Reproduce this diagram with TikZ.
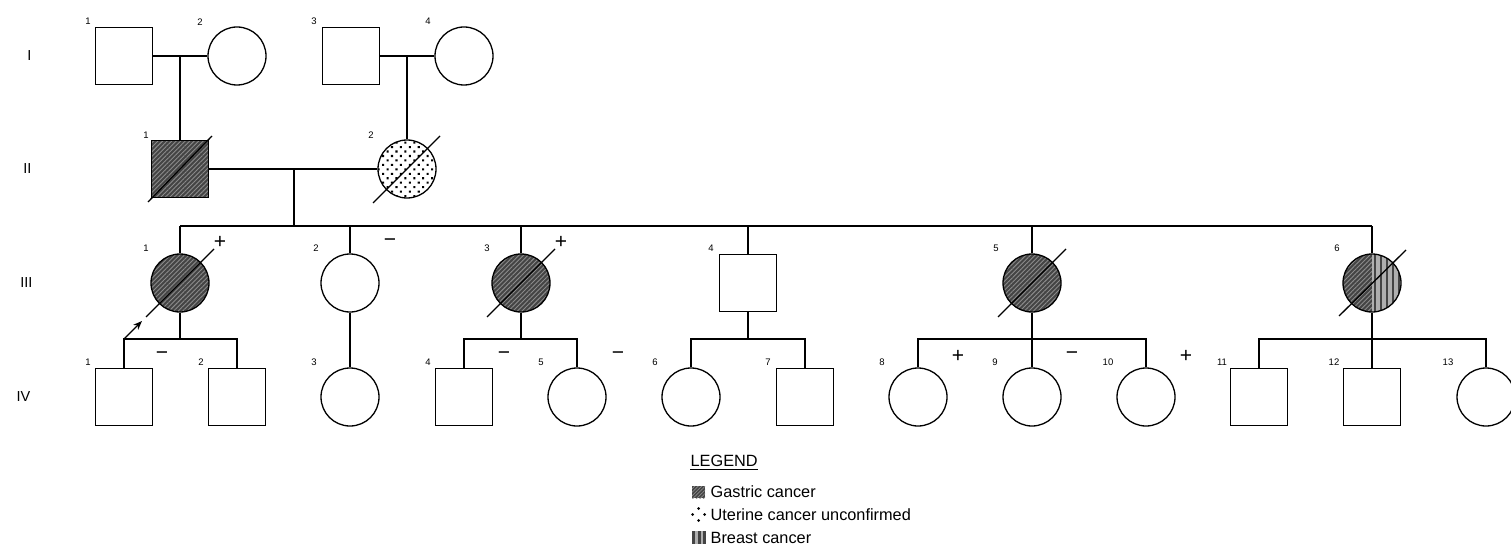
\documentclass[tikz,border=0pt]{standalone}
\usepackage{fontspec}
\setmainfont{Liberation Sans}
\usetikzlibrary{patterns.meta,calc,arrows.meta}
\definecolor{gdark}{RGB}{68,68,68}
\definecolor{glight}{RGB}{140,140,140}
\definecolor{stripelight}{RGB}{175,175,175}
\begin{document}
\begin{tikzpicture}[x=1pt,y=-1pt,line width=1.3pt,
  male/.style={draw,rectangle,minimum size=57pt,inner sep=0pt,fill=white},
  female/.style={draw,circle,minimum size=58pt,inner sep=0pt,fill=white},
  gastric/.style={preaction={fill=gdark},pattern={Lines[angle=45,distance=3.2pt,line width=0.9pt]},pattern color=glight},
  uterine/.style={pattern={Dots[angle=45,distance=6.3pt,radius=1.45pt]},pattern color=black},
  num/.style={font=\fontsize{9.5}{9.5}\selectfont,inner sep=0pt},
  gen/.style={font=\fontsize{14.5}{14.5}\selectfont,inner sep=0pt,anchor=east},
  sign/.style={font=\fontsize{21}{21}\selectfont,inner sep=0pt},
  legtext/.style={font=\fontsize{16.3}{16.3}\selectfont,inner sep=0pt,anchor=west},
  slash/.style={line width=1.3pt},
  conn/.style={line width=1.3pt}]
\useasboundingbox (0,0) rectangle (1511,548);

% generation labels
\node[gen] (gI) at (32,56) {I};
\node[gen] (gII) at (32,169) {II};
\node[gen] (gIII) at (33,283) {III};
\node[gen] (gIV) at (31,397) {IV};

% generation I
\node[male] (I1) at (124,56) {};
\node[female] (I2) at (237,56) {};
\node[male] (I3) at (351,56) {};
\node[female] (I4) at (464,56) {};
\node[num] (nI1) at (88,21) {1};
\node[num] (nI2) at (200,22) {2};
\node[num] (nI3) at (314,21) {3};
\node[num] (nI4) at (428,21) {4};

% generation II
\node[male,gastric] (II1) at (180,169) {};
\node[female,uterine] (II2) at (407,169) {};
\node[num] (nII1) at (146,135) {1};
\node[num] (nII2) at (371,135) {2};
\draw[slash] ($(II1)+(-32,33)$) -- ($(II1)+(32,-33)$);
\draw[slash] ($(II2)+(-34,34)$) -- ($(II2)+(33,-33)$);

% marriages and descents I -> II
\coordinate (m1) at (180,56);
\coordinate (m2) at (407,56);
\draw[conn] (I1) -- (I2);
\draw[conn] (I3) -- (I4);
\draw[conn] (m1) -- (II1);
\draw[conn] (m2) -- (II2);
\draw[conn] (II1) -- (II2);
\coordinate (m3) at (294,169);
\coordinate (s3) at (294,226);
\draw[conn] (m3) -- (s3);
\coordinate (sL) at (180,226);
\coordinate (sR) at (1372,226);
\draw[conn] (sL) -- (sR);

% generation III
\node[female,gastric] (III1) at (180,283) {};
\node[female] (III2) at (350,283) {};
\node[female,gastric] (III3) at (521,283) {};
\node[male] (III4) at (748,283) {};
\node[female,gastric] (III5) at (1032,283) {};
\node[female,path picture={
   \fill[gdark] (path picture bounding box.south west) rectangle (path picture bounding box.north);
   \fill[pattern={Lines[angle=45,distance=3.2pt,line width=0.9pt]},pattern color=glight] (path picture bounding box.south west) rectangle (path picture bounding box.north);
   \fill[stripelight] (path picture bounding box.south) rectangle (path picture bounding box.north east);
   \fill[pattern={Lines[angle=90,distance=6pt,line width=2.6pt,xshift=1pt]},pattern color=gdark] (path picture bounding box.south) rectangle (path picture bounding box.north east);
 }] (III6) at (1372,283) {};
\foreach \n in {III1,III2,III3,III4,III5,III6}{
  \draw[conn] (\n.north) -- (\n.north |- sL);
}
\draw[slash] ($(III1)+(-34,34)$) -- ($(III1)+(34,-34)$);
\draw[slash] ($(III3)+(-34,34)$) -- ($(III3)+(34,-34)$);
\draw[slash] ($(III5)+(-34,34)$) -- ($(III5)+(34,-34)$);
\draw[slash] ($(III6)+(-33,33)$) -- ($(III6)+(34,-33)$);
\node[num] (nIII1) at (146,248) {1};
\node[num] (nIII2) at (316,248) {2};
\node[num] (nIII3) at (487,248) {3};
\node[num] (nIII4) at (711,248) {4};
\node[num] (nIII5) at (996,248) {5};
\node[num] (nIII6) at (1337,248) {6};
\node[sign] (pIII1) at (220,242) {+};
\node[sign] (pIII2) at (390,243) {−};
\node[sign] (pIII3) at (561,242) {+};

% generation IV
\node[male] (IV1) at (124,397) {};
\node[male] (IV2) at (237,397) {};
\node[female] (IV3) at (350,397) {};
\node[male] (IV4) at (464,397) {};
\node[female] (IV5) at (577,397) {};
\node[female] (IV6) at (691,397) {};
\node[male] (IV7) at (805,397) {};
\node[female] (IV8) at (918,397) {};
\node[female] (IV9) at (1032,397) {};
\node[female] (IV10) at (1146,397) {};
\node[male] (IV11) at (1259,397) {};
\node[male] (IV12) at (1372,397) {};
\node[female] (IV13) at (1486,397) {};

\node[num] (nIV1) at (88,362) {1};
\node[num] (nIV2) at (201,362) {2};
\node[num] (nIV3) at (314,362) {3};
\node[num] (nIV4) at (428,362) {4};
\node[num] (nIV5) at (541,362) {5};
\node[num] (nIV6) at (655,362) {6};
\node[num] (nIV7) at (768,362) {7};
\node[num] (nIV8) at (882,362) {8};
\node[num] (nIV9) at (995,362) {9};
\node[num] (nIV10) at (1108,362) {10};
\node[num] (nIV11) at (1222,362) {11};
\node[num] (nIV12) at (1334,362) {12};
\node[num] (nIV13) at (1448,362) {13};

\node[sign] (sIV1) at (162,356) {−};
\node[sign] (sIV4) at (504,356) {−};
\node[sign] (sIV5) at (618,356) {−};
\node[sign] (sIV8) at (958,356) {+};
\node[sign] (sIV9) at (1072,356) {−};
\node[sign] (sIV10) at (1186,356) {+};

% sibships III -> IV
\coordinate (c1) at (180,339);
\draw[conn] (III1) -- (c1);
\draw[conn] (IV1.north) -- (IV1.north |- c1) -- (IV2.north |- c1) -- (IV2.north);
\draw[conn] (III2) -- (IV3);
\coordinate (c3) at (521,339);
\draw[conn] (III3) -- (c3);
\draw[conn] (IV4.north) -- (IV4.north |- c3) -- (IV5.north |- c3) -- (IV5.north);
\coordinate (c4) at (748,339);
\draw[conn] (III4) -- (c4);
\draw[conn] (IV6.north) -- (IV6.north |- c4) -- (IV7.north |- c4) -- (IV7.north);
\coordinate (c5) at (1032,339);
\draw[conn] (III5) -- (c5);
\draw[conn] (IV8.north) -- (IV8.north |- c5) -- (IV10.north |- c5) -- (IV10.north);
\draw[conn] (IV9) -- (c5);
\coordinate (c6) at (1372,339);
\draw[conn] (III6) -- (c6);
\draw[conn] (IV11.north) -- (IV11.north |- c6) -- (IV13.north |- c6) -- (IV13.north);
\draw[conn] (IV12) -- (c6);

% proband arrow
\coordinate (pa) at (124,339);
\coordinate (pb) at (142,321);
\draw[line width=1.1pt,-{Stealth[length=9pt,width=7pt]}] (pa) -- (pb);

% legend
\node[legtext] (leg) at (690,461) {LEGEND};
\draw[line width=1pt] (leg.south west)++(0,2.5) -- ($(leg.south east)+(0,2.5)$);
\node[legtext] (lg1) at (710,492) {Gastric cancer};
\node[legtext] (lg2) at (710,514.5) {Uterine cancer unconfirmed};
\node[legtext] (lg3) at (710,537.5) {Breast cancer};
\fill[gdark] (692,486) rectangle (705,498);
\fill[pattern={Lines[angle=45,distance=2.5pt,line width=0.7pt]},pattern color=glight] (692,486) rectangle (705,498);
\fill (698.5,508.5) circle (1.5pt);
\fill (692.5,514.5) circle (1.5pt);
\fill (704.5,514.5) circle (1.5pt);
\fill (698.5,520.5) circle (1.5pt);
\fill[stripelight] (692,531) rectangle (706,544);
\fill[gdark] (692,531) rectangle (695,544);
\fill[gdark] (698,531) rectangle (700.5,544);
\fill[gdark] (703,531) rectangle (706,544);
\end{tikzpicture}
\end{document}
